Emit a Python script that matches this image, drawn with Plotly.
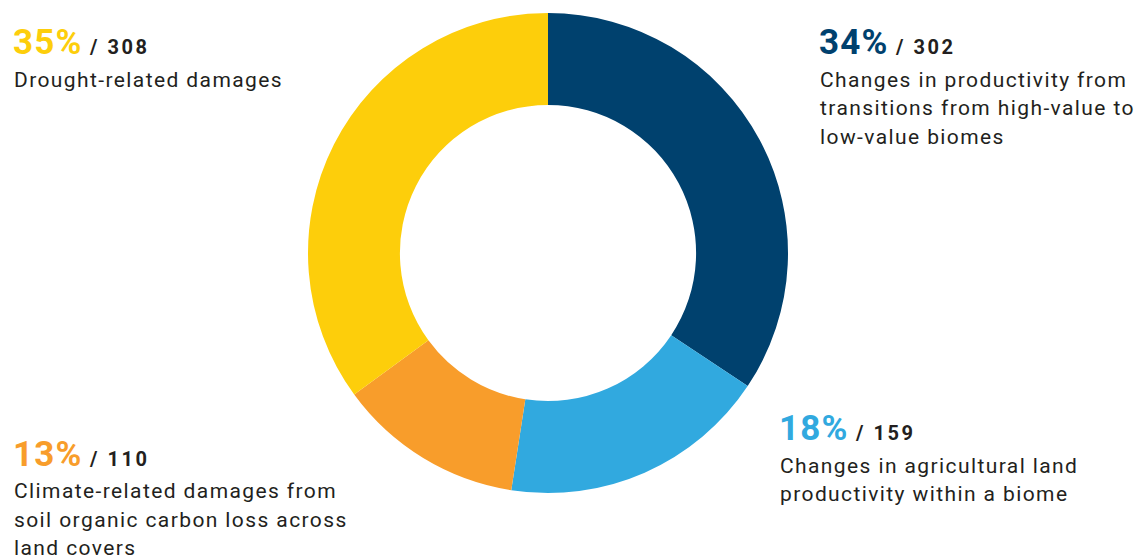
import plotly.graph_objects as go

W, H = 1136, 559

labels = ["Changes in productivity from transitions from high-value to low-value biomes",
          "Changes in agricultural land productivity within a biome",
          "Climate-related damages from soil organic carbon loss across land covers",
          "Drought-related damages"]
values = [302, 159, 110, 308]
percents = ["34%", "18%", "13%", "35%"]
colors = ["#00416e", "#31a9df", "#f89d2b", "#fdce0b"]
desc_lines = [
    ["Changes in productivity from", "transitions from high-value to", "low-value biomes"],
    ["Changes in agricultural land", "productivity within a biome"],
    ["Climate-related damages from", "soil organic carbon loss across", "land covers"],
    ["Drought-related damages"],
]

# label block anchors (pixel): left x, header baseline y
blocks = [(819, 54.5), (779, 440.5), (13, 466), (13, 54.5)]
LINE_GAP = 28.4
TEXT = "#231f20"

fig = go.Figure(go.Pie(
    labels=labels, values=values, sort=False, direction="clockwise", rotation=0,
    hole=0.617, marker=dict(colors=colors, line=dict(width=0)),
    textinfo="none", hoverinfo="label+value+percent", showlegend=False,
    domain=dict(x=[308 / W, 788 / W], y=[66 / H, 546 / H]),
))

def px(x):
    return x / W

def py(y):
    return 1 - y / H

anns = []
for i, (x0, yb) in enumerate(blocks):
    head = (f'<span style="font-size:35px;color:{colors[i]};letter-spacing:1.2px"><b>{percents[i]}</b></span>'
            f'<span style="letter-spacing:2.5px"><b> / {values[i]}</b></span>')
    anns.append(dict(x=px(x0 - 2), y=py(yb - 12), xref="paper", yref="paper",
                     xanchor="left", yanchor="middle", showarrow=False, text=head,
                     font=dict(family="Roboto", size=20, color=TEXT), align="left"))
    for j, line in enumerate(desc_lines[i]):
        yl = yb + 32.5 + j * LINE_GAP
        anns.append(dict(x=px(x0 - 1), y=py(yl - 7.2), xref="paper", yref="paper",
                         xanchor="left", yanchor="middle", showarrow=False,
                         text=f'<span style="letter-spacing:1.4px">{line}</span>',
                         font=dict(family="Roboto", size=21, color=TEXT), align="left"))

fig.update_layout(width=W, height=H, margin=dict(l=0, r=0, t=0, b=0),
                  paper_bgcolor="white", plot_bgcolor="white", annotations=anns)
fig.write_html("out.html")
